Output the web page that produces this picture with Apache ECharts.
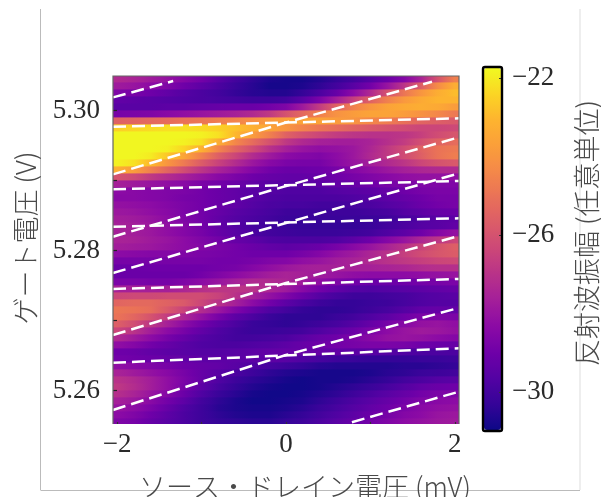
<!DOCTYPE html>
<html><head><meta charset="utf-8">
<style>html,body{margin:0;padding:0;background:#fff}#c{width:601px;height:497px;filter:blur(0.45px)}</style>
<script src="https://cdn.jsdelivr.net/npm/echarts@6/dist/echarts.min.js"></script>
</head><body><div id="c"></div>
<script>
const sourceDrainVoltages = [-2,-1.8,-1.6,-1.4,-1.2,-1,-0.8,-0.6,-0.4,-0.2,0,0.2,0.4,0.6,0.8,1,1.2,1.4,1.6,1.8,2];
const gateVoltages = [5.3045,5.3035,5.3025,5.3015,5.3005,5.2995,5.2985,5.2975,5.2965,5.2955,5.2945,5.2935,5.2925,5.2915,5.2905,5.2895,5.2885,5.2875,5.2865,5.2855,5.2845,5.2835,5.2825,5.2815,5.2805,5.2795,5.2785,5.2775,5.2765,5.2755,5.2745,5.2735,5.2725,5.2715,5.2705,5.2695,5.2685,5.2675,5.2665,5.2655,5.2645,5.2635,5.2625,5.2615,5.2605,5.2595,5.2585,5.2575,5.2565,5.2555];
const amplitude = [
[-27.3,-27.5,-27.8,-28.1,-28.5,-28.9,-29.5,-30.0,-30.4,-30.7,-30.8,-30.8,-30.6,-30.3,-30.0,-29.6,-29.1,-28.5,-27.5,-26,-24.6],
[-27.8,-28,-28.3,-28.6,-29,-29.4,-29.8,-30.2,-30.5,-30.8,-30.8,-30.7,-30.4,-30,-29.5,-28.9,-28,-26.9,-25.6,-24.3,-23.3],
[-28.6,-28.8,-29,-29.3,-29.6,-29.8,-30,-30.3,-30.5,-30.6,-30.6,-30.3,-29.8,-29.2,-28.3,-27.3,-26,-24.9,-24,-23.3,-22.9],
[-29.3,-29.4,-29.5,-29.6,-29.7,-29.8,-29.9,-30,-30.1,-30.1,-30,-29.5,-28.7,-27.7,-26.6,-25.5,-24.6,-23.9,-23.4,-23.1,-23.1],
[-29.5,-29.5,-29.5,-29.4,-29.4,-29.3,-29.2,-29.1,-29.1,-28.9,-28.6,-27.8,-26.7,-25.5,-24.6,-24,-23.6,-23.4,-23.3,-23.4,-23.8],
[-28.8,-28.7,-28.6,-28.4,-28.2,-28,-27.8,-27.6,-27.3,-26.8,-26,-25.3,-24.6,-24.1,-23.8,-23.6,-23.6,-23.8,-24.1,-24.4,-24.8],
[-25.5,-25.4,-25.3,-25.2,-25,-24.9,-24.7,-24.5,-24.2,-23.9,-23.7,-23.6,-23.6,-23.8,-24,-24.4,-24.7,-25.1,-25.4,-25.6,-25.8],
[-22.5,-22.4,-22.3,-22.2,-22.2,-22.3,-22.5,-22.8,-23.2,-23.6,-24,-24.5,-24.9,-25.2,-25.5,-25.8,-26,-26.2,-26.4,-26.4,-26.3],
[-21.8,-21.8,-21.8,-21.8,-21.8,-21.9,-22.2,-23,-23.8,-24.6,-25.5,-26,-26.4,-26.7,-26.9,-27,-27,-26.9,-26.6,-26.2,-25.9],
[-21.8,-21.8,-21.8,-21.8,-21.9,-22.2,-23.3,-24.4,-25.2,-26,-26.8,-27.3,-27.6,-27.7,-27.7,-27.5,-27.1,-26.7,-26.1,-25.5,-25.2],
[-21.8,-21.8,-21.8,-21.9,-22.4,-23.2,-24.5,-25.4,-26.2,-27,-27.6,-28,-28.2,-28.1,-27.9,-27.4,-26.8,-26.2,-25.5,-25,-24.8],
[-21.8,-21.8,-22,-22.7,-23.6,-24.6,-25.6,-26.4,-27.2,-27.8,-28.3,-28.5,-28.6,-28.3,-27.9,-27.3,-26.8,-26.2,-25.6,-25,-24.7],
[-21.9,-22.2,-23,-24,-24.8,-25.7,-26.5,-27.2,-27.9,-28.4,-28.7,-28.8,-28.8,-28.4,-28,-27.7,-27.3,-26.9,-26.4,-26,-25.8],
[-23.2,-23.8,-24.6,-25.4,-26.2,-26.9,-27.5,-28,-28.5,-28.9,-29.1,-29.1,-29,-28.8,-28.5,-28.2,-27.9,-27.6,-27.4,-27.3,-27.3],
[-26,-26.3,-26.8,-27.2,-27.6,-28,-28.4,-28.7,-29,-29.2,-29.3,-29.3,-29.2,-29,-28.8,-28.6,-28.4,-28.2,-28.1,-28.1,-28.2],
[-27.6,-27.8,-28,-28.2,-28.4,-28.7,-28.9,-29.1,-29.3,-29.5,-29.5,-29.5,-29.4,-29.3,-29.2,-29,-28.8,-28.7,-28.6,-28.6,-28.6],
[-28.3,-28.4,-28.5,-28.6,-28.7,-28.9,-29.1,-29.3,-29.5,-29.6,-29.7,-29.7,-29.7,-29.6,-29.5,-29.4,-29.2,-29,-28.8,-28.7,-28.7],
[-28.4,-28.4,-28.5,-28.6,-28.8,-28.9,-29.1,-29.3,-29.5,-29.7,-29.8,-29.8,-29.8,-29.8,-29.7,-29.6,-29.4,-29.2,-29,-28.8,-28.8],
[-28.1,-28.2,-28.3,-28.5,-28.7,-28.9,-29.1,-29.3,-29.6,-29.8,-29.9,-29.9,-30,-30,-29.9,-29.8,-29.6,-29.4,-29.1,-28.9,-28.8],
[-27.9,-28,-28.2,-28.4,-28.7,-28.9,-29.2,-29.5,-29.7,-29.9,-30.1,-30.1,-30.1,-30.1,-30.1,-30,-29.9,-29.6,-29.4,-29.2,-29.1],
[-27.7,-27.8,-28,-28.3,-28.6,-28.9,-29.3,-29.6,-29.8,-30,-30.2,-30.2,-30.2,-30.2,-30.2,-30.2,-30.1,-29.9,-29.7,-29.5,-29.4],
[-27.6,-27.7,-27.9,-28.2,-28.5,-28.9,-29.3,-29.6,-29.9,-30.1,-30.2,-30.3,-30.3,-30.3,-30.3,-30.2,-30,-29.8,-29.6,-29.5,-29.3],
[-27.6,-27.7,-27.9,-28.2,-28.5,-28.8,-29.2,-29.5,-29.8,-30,-30.1,-30.2,-30.2,-30.2,-30.1,-30,-29.7,-29.4,-29,-28.5,-28.1],
[-27.5,-27.6,-27.8,-28,-28.3,-28.6,-28.9,-29.2,-29.4,-29.7,-29.8,-29.8,-29.8,-29.7,-29.4,-29,-28.5,-28,-27.4,-26.9,-26.4],
[-27.7,-27.8,-27.9,-28.1,-28.3,-28.5,-28.7,-28.9,-29.1,-29.3,-29.4,-29.3,-29.1,-28.8,-28.4,-28,-27.5,-27,-26.5,-26,-25.6],
[-28.3,-28.4,-28.5,-28.5,-28.6,-28.7,-28.8,-28.9,-29,-29,-29,-28.8,-28.5,-28.1,-27.8,-27.4,-27,-26.6,-26.2,-25.9,-25.7],
[-28.8,-28.8,-28.8,-28.8,-28.8,-28.8,-28.9,-28.9,-28.8,-28.6,-28.5,-28.2,-28,-27.7,-27.5,-27.3,-27,-26.8,-26.6,-26.4,-26.3],
[-29.1,-29.1,-29,-29,-29,-29,-28.9,-28.8,-28.5,-28.2,-27.9,-27.7,-27.6,-27.6,-27.6,-27.6,-27.5,-27.4,-27.2,-27.1,-27.1],
[-29.1,-29.1,-29.1,-29.1,-29.1,-28.9,-28.6,-28.3,-28,-27.7,-27.5,-27.6,-27.8,-28,-28.2,-28.3,-28.3,-28.3,-28.2,-28.1,-28],
[-28.7,-28.7,-28.8,-28.8,-28.6,-28.3,-28,-27.6,-27.3,-27.3,-27.4,-27.8,-28.2,-28.6,-28.9,-29.1,-29.1,-29,-28.9,-28.8,-28.7],
[-27.6,-27.6,-27.6,-27.6,-27.4,-27.1,-26.9,-26.9,-27,-27.4,-27.8,-28.4,-28.9,-29.3,-29.6,-29.7,-29.6,-29.5,-29.4,-29.3,-29.2],
[-26.4,-26.3,-26.3,-26.2,-26.2,-26.2,-26.5,-27,-27.6,-28.1,-28.6,-29.1,-29.6,-29.9,-30.1,-30.1,-30,-29.9,-29.7,-29.6,-29.5],
[-25.4,-25.3,-25.3,-25.5,-25.8,-26.4,-27,-27.6,-28.3,-28.9,-29.4,-29.8,-30.1,-30.3,-30.3,-30.2,-30.1,-29.9,-29.7,-29.6,-29.6],
[-24.9,-25,-25.2,-25.8,-26.5,-27.2,-27.9,-28.6,-29.2,-29.7,-30,-30.3,-30.4,-30.4,-30.3,-30.1,-29.9,-29.6,-29.3,-29.2,-29.3],
[-25,-25.4,-26,-26.7,-27.4,-28.1,-28.8,-29.4,-29.8,-30.2,-30.4,-30.4,-30.4,-30.2,-30,-29.7,-29.4,-29,-28.7,-28.6,-28.7],
[-25.6,-26.2,-26.9,-27.6,-28.3,-28.9,-29.4,-29.8,-30.2,-30.3,-30.4,-30.3,-30.1,-29.9,-29.6,-29.2,-28.8,-28.4,-28.1,-28,-28.2],
[-26.4,-27,-27.7,-28.3,-28.8,-29.3,-29.7,-30,-30.2,-30.2,-30.1,-30,-29.7,-29.4,-29.1,-28.7,-28.3,-28,-27.8,-27.9,-28.1],
[-27.3,-27.8,-28.3,-28.8,-29.2,-29.6,-29.8,-30,-30,-29.9,-29.8,-29.5,-29.2,-29,-28.7,-28.4,-28.1,-28,-28.1,-28.3,-28.5],
[-28.2,-28.5,-28.9,-29.2,-29.5,-29.7,-29.8,-29.8,-29.7,-29.6,-29.4,-29.2,-29,-28.9,-28.8,-28.7,-28.7,-28.8,-29,-29.1,-29.2],
[-29,-29.1,-29.3,-29.4,-29.5,-29.6,-29.6,-29.5,-29.4,-29.3,-29.2,-29.2,-29.2,-29.3,-29.4,-29.5,-29.6,-29.7,-29.8,-29.8,-29.8],
[-28.9,-29,-29.1,-29.2,-29.3,-29.4,-29.4,-29.4,-29.4,-29.4,-29.5,-29.7,-29.9,-30.1,-30.2,-30.3,-30.3,-30.3,-30.2,-30.2,-30.1],
[-28.2,-28.4,-28.6,-28.8,-29,-29.2,-29.3,-29.5,-29.7,-29.9,-30.1,-30.3,-30.5,-30.6,-30.6,-30.6,-30.6,-30.5,-30.5,-30.4,-30.3],
[-27.5,-27.8,-28.1,-28.4,-28.8,-29.2,-29.5,-29.8,-30.1,-30.4,-30.6,-30.7,-30.8,-30.8,-30.8,-30.7,-30.5,-30.4,-30.2,-30.1,-30],
[-27,-27.3,-27.7,-28.2,-28.7,-29.2,-29.7,-30.1,-30.4,-30.6,-30.8,-30.9,-30.8,-30.8,-30.7,-30.5,-30.3,-30,-29.8,-29.6,-29.5],
[-26.8,-27.2,-27.7,-28.2,-28.8,-29.4,-29.9,-30.3,-30.6,-30.8,-30.9,-30.9,-30.8,-30.6,-30.4,-30.2,-29.9,-29.6,-29.3,-29.1,-29],
[-27.1,-27.5,-28,-28.5,-29.1,-29.7,-30.2,-30.5,-30.8,-30.9,-30.9,-30.8,-30.6,-30.4,-30.1,-29.8,-29.5,-29.2,-28.9,-28.7,-28.6],
[-27.6,-27.9,-28.4,-28.9,-29.4,-30,-30.4,-30.7,-30.9,-30.9,-30.8,-30.7,-30.4,-30.1,-29.8,-29.5,-29.2,-28.9,-28.6,-28.4,-28.3],
[-28,-28.3,-28.7,-29.2,-29.7,-30.1,-30.5,-30.7,-30.8,-30.8,-30.7,-30.5,-30.2,-29.9,-29.6,-29.3,-29,-28.7,-28.4,-28.2,-28.1],
[-28.3,-28.6,-29,-29.4,-29.8,-30.1,-30.4,-30.6,-30.7,-30.7,-30.5,-30.3,-30,-29.7,-29.4,-29.1,-28.8,-28.5,-28.3,-28,-27.9],
[-28.6,-28.8,-29.2,-29.5,-29.8,-30.1,-30.3,-30.4,-30.5,-30.5,-30.3,-30.1,-29.8,-29.5,-29.2,-28.9,-28.6,-28.3,-28.1,-27.9,-27.8]
];
const flatLines = [
  [[-2.05,5.29771],[2.05,5.29891]],
  [[-2.05,5.28877],[2.05,5.28996]],
  [[-2.05,5.28343],[2.05,5.28463]],
  [[-2.05,5.27453],[2.05,5.27596]],
  [[-2.05,5.26400],[2.05,5.26606]]
];
const slantLines = [
  [[-2.05,5.30190],[-1.337,5.30424]],
  [[-2.05,5.29091],[0,5.29831],[1.73,5.30414]],
  [[-2.05,5.28200],[0,5.28924],[2.05,5.29620]],
  [[-2.05,5.27681],[0,5.28396],[2.05,5.29106]],
  [[-2.05,5.26796],[0,5.27539],[2.05,5.28210]],
  [[-2.05,5.25724],[0,5.26510],[2.05,5.27184]],
  [[0.781,5.2555],[2.05,5.25986]]
];
const xTicks = [-2,-1,0,1,2];
const xLabels = [-2,0,2];
const yTicks = [5.26,5.27,5.28,5.29,5.30];
const yLabels = [5.26,5.28,5.30];
const barLabels = [-22,-26,-30];
const plasma = ['#0d0887','#350498','#5302a3','#6f00a8','#8b0aa5','#a31e9a','#b83289','#cc4778','#db5c68','#e97158','#f48849','#fb9f3a','#fdb42f','#fbd524','#f0f921'];
const ampMin = -30.96, ampMax = -21.75;

const minus = v => String(v).replace('-', '\u2212');
const colorOf = v => echarts.color.lerp(Math.min(1, Math.max(0, (v - ampMin) / (ampMax - ampMin))), plasma);
const cells = [];
gateVoltages.forEach((g, r) => sourceDrainVoltages.forEach((s, c) => cells.push([s, g, amplitude[r][c], r, c])));
const labelFont = {fontFamily: '"Liberation Serif"', fontSize: 27, color: '#2a2a2a'};
const titleFont = {fontFamily: '"Noto Sans CJK JP"', fontWeight: 300, fontSize: 27, fill: '#4a4a4a'};
const dash = {color: '#fff', width: 2.5, type: [13, 6]};
const lineSeries = flatLines.concat(slantLines).map(pts => ({
  type: 'line', data: pts, symbol: 'none', silent: true, z: 5, clip: true, lineStyle: dash, animation: false
}));

const chart = echarts.init(document.getElementById('c'), null, {renderer: 'canvas'});
chart.setOption({
  animation: false,
  backgroundColor: '#fff',
  grid: [
    {left: 113, top: 76, width: 346, height: 348},
    {left: 484, top: 68, width: 17, height: 362}
  ],
  xAxis: [
    {gridIndex: 0, type: 'value', min: -2.05, max: 2.05, position: 'bottom', splitLine: {show: false}, z: 6,
     axisLine: {show: false, onZero: false},
     axisTick: {show: true, inside: true, length: 2, customValues: xTicks, lineStyle: {color: '#333', width: 1.2}},
     axisLabel: {customValues: xLabels, formatter: minus, margin: 7, ...labelFont}},
    {gridIndex: 1, type: 'value', min: 0, max: 1, show: false}
  ],
  yAxis: [
    {gridIndex: 0, type: 'value', min: 5.25524, max: 5.30496, position: 'left', splitLine: {show: false}, z: 6,
     axisLine: {show: false, onZero: false},
     axisTick: {show: true, inside: true, length: 4, customValues: yTicks, lineStyle: {color: '#222', width: 1.2}},
     axisLabel: {customValues: yLabels, formatter: v => v.toFixed(2), margin: 13, ...labelFont}},
    {gridIndex: 1, type: 'value', min: ampMin, max: ampMax, position: 'right', splitLine: {show: false}, z: 10,
     axisLine: {show: false, onZero: false},
     axisTick: {show: true, inside: true, length: 2, customValues: barLabels, lineStyle: {color: '#333', width: 1}},
     axisLabel: {customValues: barLabels, formatter: minus, margin: 11, ...labelFont}}
  ],
  visualMap: {
    type: 'continuous', min: ampMin, max: ampMax, seriesIndex: 0, dimension: 2,
    left: 484, top: 68, itemWidth: 17, itemHeight: 362, showLabel: false, calculable: false,
    realtime: false, hoverLink: false, text: null, inRange: {color: plasma}, padding: 0
  },
  series: [{
    type: 'custom', data: cells, encode: {x: 0, y: 1}, silent: true, z: 2, clip: true,
    renderItem(params, api) {
      const r = api.value(3), c = api.value(4), row = amplitude[r], v = row[c];
      const left = row[c - 1] === undefined ? v : (v + row[c - 1]) / 2;
      const right = row[c + 1] === undefined ? v : (v + row[c + 1]) / 2;
      const a = api.coord([api.value(0) - 0.1, api.value(1) + 0.0005]);
      const b = api.coord([api.value(0) + 0.1, api.value(1) - 0.0005]);
      const x0 = Math.round(a[0]), x1 = Math.round(b[0]);
      return {type: 'rect', shape: {x: x0, y: a[1] - 0.3, width: x1 - x0, height: b[1] - a[1] + 0.6},
              style: {fill: new echarts.graphic.LinearGradient(0, 0, 1, 0, [
                {offset: 0, color: colorOf(left)}, {offset: 0.5, color: colorOf(v)}, {offset: 1, color: colorOf(right)}
              ])}};
    }
  }].concat(lineSeries),
  graphic: [
    {type: 'polyline', z: 20, shape: {points: [[113,424],[113,76],[459,76],[459,424]]}, style: {fill: null, stroke: '#666', lineWidth: 1.2}},
    {type: 'rect', z: 20, shape: {x: 483, y: 67, width: 19, height: 364, r: 2}, style: {fill: null, stroke: '#000', lineWidth: 2.4}},
    {type: 'line', z: 20, shape: {x1: 40.5, y1: 9, x2: 40.5, y2: 490}, style: {stroke: '#bbb', lineWidth: 1}},
    {type: 'line', z: 20, shape: {x1: 40.5, y1: 490.5, x2: 580, y2: 490.5}, style: {stroke: '#bbb', lineWidth: 1}},
    {type: 'line', z: 20, shape: {x1: 580, y1: 9, x2: 580, y2: 490}, style: {stroke: '#ddd', lineWidth: 1}},
    {type: 'text', z: 21, x: 305, y: 487, style: {text: 'ソース・ドレイン電圧 (mV)', textAlign: 'center', textVerticalAlign: 'middle', ...titleFont}},
    {type: 'text', z: 21, x: 26, y: 238, rotation: Math.PI / 2, style: {text: 'ゲート電圧 (V)', textAlign: 'center', textVerticalAlign: 'middle', ...titleFont}},
    {type: 'text', z: 21, x: 587, y: 233, rotation: Math.PI / 2, style: {text: '反射波振幅 (任意単位)', textAlign: 'center', textVerticalAlign: 'middle', ...titleFont}}
  ]
});
</script></body></html>
